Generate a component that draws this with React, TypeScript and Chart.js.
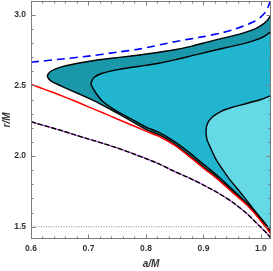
import React, { useEffect, useRef } from 'react';
import { Chart, registerables } from 'chart.js';

Chart.register(...registerables);

const X_MIN = 0.6;
const X_MAX = 1.0175;
const Y_MIN = 1.413;
const Y_MAX = 3.097;

const xTicks = [0.6, 0.7, 0.8, 0.9, 1.0];
const xTickLabels = ['0.6', '0.7', '0.8', '0.9', '1.0'];
const yTicks = [1.5, 2.0, 2.5, 3.0];
const yTickLabels = ['1.5', '2.0', '2.5', '3.0'];
const xTitle = 'a/M';
const yTitle = 'r/M';

// red solid curve
const redA = [0.6, 0.625, 0.65, 0.675, 0.7, 0.725, 0.75, 0.775, 0.8, 0.825, 0.85, 0.875, 0.9, 0.925, 0.95, 0.975, 0.99, 1.0, 1.01, 1.0175];
const redR = [2.508, 2.47, 2.432, 2.391, 2.348, 2.306, 2.262, 2.22, 2.176, 2.135, 2.075, 1.998, 1.915, 1.835, 1.745, 1.655, 1.59, 1.54, 1.49, 1.448];

// black dashed (over purple) curve
const dashA = [0.6, 0.625, 0.65, 0.675, 0.7, 0.725, 0.75, 0.775, 0.8, 0.825, 0.85, 0.875, 0.9, 0.925, 0.95, 0.975, 0.99, 1.0, 1.01, 1.0175];
const dashR = [2.243, 2.213, 2.184, 2.152, 2.12, 2.09, 2.057, 2.02, 1.982, 1.94, 1.89, 1.845, 1.795, 1.74, 1.675, 1.595, 1.535, 1.495, 1.455, 1.418];

// blue dashed curve
const blueA = [0.6, 0.65, 0.7, 0.75, 0.79, 0.85, 0.9, 0.93, 0.95, 0.97, 0.99, 1.0, 1.008, 1.013, 1.0175];
const blueR = [2.664, 2.685, 2.707, 2.735, 2.758, 2.809, 2.845, 2.87, 2.892, 2.92, 2.955, 2.985, 3.02, 3.06, 3.11];

// outer (dark teal) region boundary: upper branch right->left, tip, lower branch left->right
const outerA = [1.0175, 1.012, 1.005, 0.99, 0.97, 0.94, 0.91, 0.88, 0.85, 0.82, 0.7885, 0.7536, 0.7129, 0.6838, 0.6546, 0.6431, 0.6333, 0.6285, 0.6314, 0.6372, 0.6546, 0.6838, 0.7129, 0.7419, 0.771, 0.79, 0.8, 0.825, 0.85, 0.875, 0.9, 0.925, 0.95, 0.975, 0.99, 1.0, 1.01, 1.0175];
const outerR = [2.998, 2.965, 2.937, 2.9, 2.872, 2.84, 2.81, 2.778, 2.752, 2.733, 2.715, 2.698, 2.678, 2.658, 2.633, 2.617, 2.596, 2.566, 2.543, 2.524, 2.491, 2.439, 2.385, 2.322, 2.255, 2.212, 2.188, 2.146, 2.085, 2.007, 1.924, 1.843, 1.752, 1.661, 1.595, 1.544, 1.493, 1.45];

// middle region boundary
const innerA = [1.0175, 1.005, 0.99, 0.97, 0.94, 0.91, 0.88, 0.85, 0.82, 0.7885, 0.7536, 0.7244, 0.7095, 0.7042, 0.7129, 0.7244, 0.7419, 0.7593, 0.79, 0.8, 0.825, 0.85, 0.875, 0.9, 0.925, 0.95, 0.975, 0.99, 1.0, 1.01, 1.0175];
const innerR = [2.88, 2.845, 2.82, 2.795, 2.768, 2.74, 2.71, 2.68, 2.655, 2.635, 2.613, 2.586, 2.556, 2.51, 2.446, 2.387, 2.336, 2.295, 2.228, 2.205, 2.163, 2.102, 2.026, 1.942, 1.859, 1.765, 1.668, 1.6, 1.548, 1.496, 1.452];

// light region boundary
const lightA = [1.0175, 1.0, 0.975, 0.95, 0.93, 0.915, 0.907, 0.9045, 0.906, 0.912, 0.922, 0.935, 0.9455, 0.9688, 0.985, 1.0, 1.01, 1.0175];
const lightR = [2.428, 2.4, 2.372, 2.345, 2.315, 2.275, 2.23, 2.18, 2.12, 2.06, 1.975, 1.895, 1.835, 1.72, 1.635, 1.56, 1.51, 1.462];

const guideA = [0.6, 1.0175];
const guideR = [1.5, 1.5];

const pts = (a: number[], r: number[]) => a.map((x, i) => ({ x, y: r[i] }));

const framePlugin = {
  id: 'mmaFrame',
  afterDraw(chart: any) {
    const { ctx, chartArea: ca, scales } = chart;
    const xs = scales.x;
    const ys = scales.y;
    ctx.save();
    ctx.strokeStyle = '#7a7a7a';
    ctx.lineWidth = 1;
    ctx.strokeRect(ca.left + 0.5, ca.top + 0.5, ca.right - ca.left - 1, ca.bottom - ca.top - 1);
    ctx.beginPath();
    const drawX = (v: number, len: number) => {
      const px = Math.round(xs.getPixelForValue(v)) + 0.5;
      ctx.moveTo(px, ca.bottom);
      ctx.lineTo(px, ca.bottom - len);
      ctx.moveTo(px, ca.top);
      ctx.lineTo(px, ca.top + len);
    };
    const drawY = (v: number, len: number) => {
      const py = Math.round(ys.getPixelForValue(v)) + 0.5;
      ctx.moveTo(ca.left, py);
      ctx.lineTo(ca.left + len, py);
      ctx.moveTo(ca.right, py);
      ctx.lineTo(ca.right - len, py);
    };
    for (let i = 0; i <= 20; i++) {
      const v = 0.6 + i * 0.02;
      if (v > X_MAX) break;
      drawX(v, i % 5 === 0 ? 4.5 : 2.5);
    }
    for (let i = 0; i <= 16; i++) {
      const v = 1.5 + i * 0.1;
      if (v > Y_MAX) break;
      drawY(v, i % 5 === 0 ? 4.5 : 2.5);
    }
    ctx.stroke();

    ctx.fillStyle = '#333333';
    ctx.font = 'bold 8.5px "Liberation Sans", Arial, sans-serif';
    ctx.textAlign = 'center';
    ctx.textBaseline = 'top';
    xTicks.forEach((v, i) => {
      ctx.fillText(xTickLabels[i], xs.getPixelForValue(v), ca.bottom + 5);
    });
    ctx.textAlign = 'right';
    ctx.textBaseline = 'middle';
    yTicks.forEach((v, i) => {
      ctx.fillText(yTickLabels[i], ca.left - 5, ys.getPixelForValue(v));
    });

    ctx.font = 'italic bold 10px "Liberation Sans", Arial, sans-serif';
    ctx.textAlign = 'center';
    ctx.textBaseline = 'middle';
    ctx.fillText(xTitle, (ca.left + ca.right) / 2, 264);
    ctx.translate(7, (ca.top + ca.bottom) / 2);
    ctx.rotate(-Math.PI / 2);
    ctx.fillText(yTitle, 0, 0);
    ctx.restore();
  },
};

export default function App() {
  const ref = useRef<HTMLCanvasElement | null>(null);
  useEffect(() => {
    document.body.style.margin = '0';
    const canvas = ref.current;
    if (!canvas) return;
    const region = (a: number[], r: number[], color: string, order: number) => ({
      data: pts(a, r),
      fill: 'shape',
      backgroundColor: color,
      borderColor: '#000000',
      borderWidth: 1.4,
      tension: 0.2,
      pointRadius: 0,
      order,
    });
    const chart = new Chart(canvas, {
      type: 'line',
      data: {
        datasets: [
          region(outerA, outerR, '#1a98aa', 20),
          region(innerA, innerR, '#22b5cf', 19),
          region(lightA, lightR, '#66d9e6', 18),
          {
            data: pts(redA, redR),
            borderColor: '#ff0000',
            borderWidth: 1.5,
            tension: 0.2,
            pointRadius: 0,
            fill: false,
            order: 6,
          },
          {
            data: pts(dashA, dashR),
            borderColor: '#b455d6',
            borderWidth: 1.3,
            tension: 0.2,
            pointRadius: 0,
            fill: false,
            order: 5,
          },
          {
            data: pts(dashA, dashR),
            borderColor: '#000000',
            borderWidth: 1.4,
            borderDash: [5, 2],
            tension: 0.2,
            pointRadius: 0,
            fill: false,
            order: 4,
          },
          {
            data: pts(blueA, blueR),
            borderColor: '#0000ff',
            borderWidth: 1.6,
            borderDash: [8, 5],
            tension: 0.2,
            pointRadius: 0,
            fill: false,
            order: 3,
          },
          {
            data: pts(guideA, guideR),
            borderColor: '#8a8a8a',
            borderWidth: 1,
            borderDash: [1, 1.5],
            pointRadius: 0,
            fill: false,
            order: 2,
          },
        ],
      } as any,
      options: {
        animation: false,
        responsive: false,
        devicePixelRatio: 1,
        layout: { padding: { left: 31, right: 2, top: 1, bottom: 32 } },
        plugins: { legend: { display: false }, tooltip: { enabled: false } },
        scales: {
          x: { type: 'linear', min: X_MIN, max: X_MAX, display: false },
          y: { type: 'linear', min: Y_MIN, max: Y_MAX, display: false },
        },
      } as any,
      plugins: [framePlugin],
    });
    return () => chart.destroy();
  }, []);
  return (
    <div style={{ position: 'fixed', left: 0, top: 0, width: 273, height: 271, background: '#ffffff' }}>
      <canvas ref={ref} width={273} height={271} style={{ display: 'block' }} />
    </div>
  );
}
